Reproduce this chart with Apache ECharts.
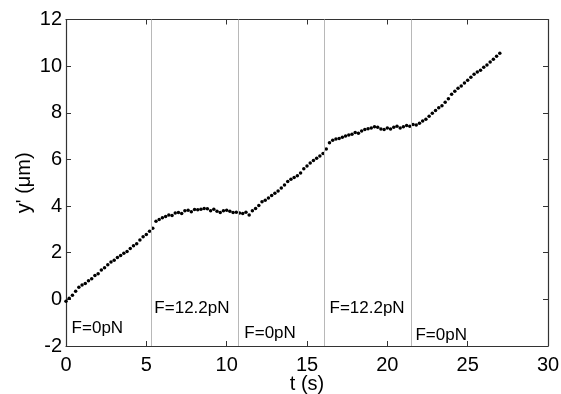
<!DOCTYPE html>
<html>
<head>
<meta charset="utf-8">
<script src="https://cdn.jsdelivr.net/npm/echarts@6/dist/echarts.min.js"></script>
<style>
  html, body { margin: 0; padding: 0; background: #fff; }
  #main { width: 561px; height: 394px; }
</style>
</head>
<body>
<div id="main"></div>
<script>
// sampled every 0.2 s, from t = 0 to 27 s
const dt = 0.2;
const yPos = [
  -0.08, 0.05, 0.18, 0.35, 0.52, 0.62, 0.68, 0.80, 0.88, 1.02,
  1.10, 1.26, 1.35, 1.48, 1.60, 1.68, 1.80, 1.88, 1.98, 2.05,
  2.18, 2.30, 2.38, 2.55, 2.68, 2.78, 2.92, 3.05, 3.35, 3.42,
  3.50, 3.55, 3.62, 3.60, 3.70, 3.72, 3.68, 3.80, 3.82, 3.76,
  3.85, 3.84, 3.86, 3.90, 3.88, 3.80, 3.86, 3.78, 3.72, 3.80,
  3.82, 3.78, 3.72, 3.74, 3.70, 3.68, 3.74, 3.62, 3.80, 3.90,
  4.02, 4.18, 4.25, 4.35, 4.45, 4.55, 4.65, 4.78, 4.90, 5.05,
  5.15, 5.22, 5.30, 5.42, 5.60, 5.72, 5.85, 5.95, 6.05, 6.15,
  6.25, 6.45, 6.72, 6.82, 6.88, 6.90, 6.95, 7.00, 7.05, 7.08,
  7.15, 7.12, 7.22, 7.28, 7.32, 7.35, 7.40, 7.38, 7.30, 7.28,
  7.35, 7.30, 7.38, 7.42, 7.35, 7.40, 7.45, 7.42, 7.50, 7.48,
  7.55, 7.65, 7.72, 7.85, 7.98, 8.10, 8.22, 8.30, 8.45, 8.60,
  8.80, 8.92, 9.05, 9.15, 9.28, 9.40, 9.52, 9.65, 9.75, 9.82,
  9.95, 10.05, 10.18, 10.30, 10.42, 10.55
];
// force switching times (s)
const switchTimes = [5.3, 10.7, 16.1, 21.5];
// annotation text and anchor [t, y]
const forceLabels = ['F=0pN', 'F=12.2pN', 'F=0pN', 'F=12.2pN', 'F=0pN'];
const labelPos = [[0.35, -1.24], [5.5, -0.38], [11.1, -1.45], [16.4, -0.38], [21.75, -1.54]];

const points = yPos.map((v, i) => [+(i * dt).toFixed(1), v]);

const myChart = echarts.init(document.getElementById('main'));
const axisColor = '#333';
const font = 'Arial, "Liberation Sans", sans-serif';

let option = {
    animation: false,
    grid: { left: 66, right: 13, top: 19.5, bottom: 48, containLabel: false, outerBoundsMode: 'none' },
    xAxis: [
        {
            type: 'value', min: 0, max: 30, interval: 5,
            name: 't (s)', nameLocation: 'middle', nameGap: 28, nameMoveOverlap: false,
            nameTextStyle: { color: '#000', fontSize: 20, fontFamily: font },
            axisLine: { onZero: false, lineStyle: { color: axisColor, width: 1.2 } },
            axisTick: { inside: true, length: 5, lineStyle: { color: axisColor } },
            axisLabel: { color: '#000', fontSize: 20, fontFamily: font, margin: 9 },
            splitLine: { show: false }
        },
        {
            type: 'value', min: 0, max: 30, interval: 5, position: 'top',
            axisLine: { onZero: false, lineStyle: { color: axisColor, width: 1.2 } },
            axisTick: { inside: true, length: 5, lineStyle: { color: axisColor } },
            axisLabel: { show: false },
            splitLine: { show: false }
        }
    ],
    yAxis: [
        {
            type: 'value', min: -2, max: 12, interval: 2,
            name: "y' (\u03bcm)", nameLocation: 'middle', nameGap: 32, nameRotate: 90, nameMoveOverlap: false,
            nameTextStyle: { color: '#000', fontSize: 20, fontFamily: font },
            axisLine: { onZero: false, lineStyle: { color: axisColor, width: 1.2 } },
            axisTick: { inside: true, length: 5, lineStyle: { color: axisColor } },
            axisLabel: { color: '#000', fontSize: 20, fontFamily: font, margin: 4 },
            splitLine: { show: false }
        },
        {
            type: 'value', min: -2, max: 12, interval: 2, position: 'right',
            axisLine: { show: true, onZero: false, lineStyle: { color: axisColor, width: 1.2 } },
            axisTick: { show: true, inside: true, length: 5, lineStyle: { color: axisColor } },
            axisLabel: { show: false },
            splitLine: { show: false }
        }
    ],
    series: [
        {
            type: 'scatter',
            data: points,
            symbol: 'circle',
            symbolSize: 3.5,
            itemStyle: { color: '#000', opacity: 1 },
            markLine: {
                silent: true,
                symbol: 'none',
                label: { show: false },
                lineStyle: { color: '#b8b8b8', type: 'solid', width: 1, opacity: 1 },
                data: switchTimes.map(t => ({ xAxis: t }))
            },
            z: 3
        },
        {
            type: 'scatter',
            symbolSize: 0,
            itemStyle: { opacity: 1 },
            data: labelPos.map((p, i) => ({ value: p, name: forceLabels[i] })),
            label: {
                show: true,
                position: 'right',
                distance: 0,
                formatter: '{b}',
                color: '#000',
                opacity: 1,
                fontSize: 17,
                fontFamily: font
            },
            silent: true
        }
    ]
};
myChart.setOption(option);
</script>
</body>
</html>
